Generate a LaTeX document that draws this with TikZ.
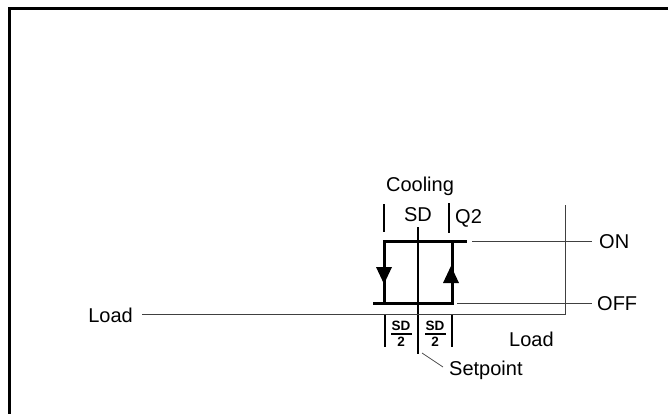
\documentclass[tikz,border=0pt]{standalone}
\usepackage{fontspec}
\setmainfont{Liberation Sans}
\begin{document}
\begin{tikzpicture}[x=1pt,y=-1pt,
  lbl/.style={font=\fontsize{20}{22}\selectfont, inner sep=0pt},
  half/.style={font=\bfseries\fontsize{13.5}{14}\selectfont, inner sep=0pt},
  thick box/.style={line width=3pt},
  thin line/.style={line width=1pt, draw=black!75},
  tick/.style={line width=2pt}]
\useasboundingbox (0,0) rectangle (668,414);
% frame
\draw[line width=3pt] (9.5,414) -- (9.5,8.5) -- (668,8.5);
% labels
\node[lbl] (cool) at (420,186) {Cooling};
\node[lbl] (sd) at (418,215) {SD};
\node[lbl, anchor=west] (q2) at (455,218) {Q2};
\node[lbl, anchor=west] (on) at (599,242) {ON};
\node[lbl, anchor=west] (off) at (597,304) {OFF};
\node[lbl, anchor=east] (loadl) at (133,315) {Load};
\node[lbl, anchor=west] (loadr) at (509,339) {Load};
\node[lbl, anchor=west] (setp) at (449,370) {Setpoint};
% coordinates
\coordinate (tl) at (384,241);
\coordinate (tr) at (452,241);
\coordinate (bl) at (384,303);
\coordinate (br) at (452,303);
% top ticks
\draw[tick] (384,204) -- (384,232);
\draw[tick] (449,203) -- (449,233);
% centre line
\draw[tick] (418,227) -- (418,354);
% load line and frame line
\draw[thin line] (142,314) -- (565,314) -- (565,205);
% ON / OFF lines
\draw[thin line] (472,241) -- (592,241);
\draw[thin line] (457,303) -- (592,303);
% hysteresis box
\draw[thick box] (373,303) -- (bl) -- (tl) -- (tr) -- (br) -- (384,303);
\draw[thick box] (tr) -- (467,241);
% arrowheads
\fill (376,267) -- (392,267) -- (384,284) -- cycle;
\fill (443,283) -- (459,283) -- (451,266) -- cycle;
% bottom ticks
\draw[tick] (385,315) -- (385,347);
\draw[tick] (452,315) -- (452,347);
% SD/2 labels
\node[half] (h1) at (401,326) {SD};
\draw[line width=1.2pt] (391,334) -- (412,334);
\node[half] (h1b) at (401,342) {2};
\node[half] (h2) at (435,326) {SD};
\draw[line width=1.2pt] (425,334) -- (446,334);
\node[half] (h2b) at (435,342) {2};
% setpoint leader
\draw[line width=0.8pt, draw=black!70] (422,353) -- (443,367);
\end{tikzpicture}
\end{document}
